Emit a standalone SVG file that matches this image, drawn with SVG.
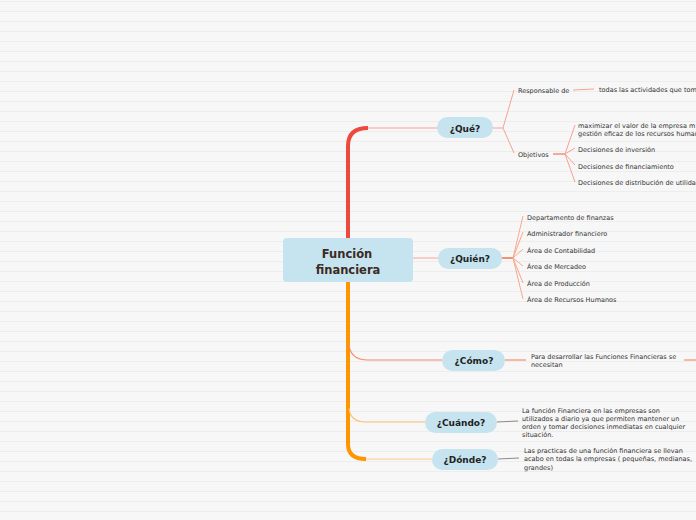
<svg xmlns="http://www.w3.org/2000/svg" width="696" height="520" viewBox="0 0 696 520">
<defs>
<pattern id="lines" x="0" y="0" width="696" height="10" patternUnits="userSpaceOnUse">
<rect width="696" height="10" fill="#f7f7f7"/>
<rect y="1" width="696" height="1" fill="#ededed"/>
</pattern>
</defs>
<style>
.root{fill:#c5e4ef;}
.pill{fill:#c5e4ef;}
.rt{font-family:"DejaVu Sans",Verdana,sans-serif;font-weight:bold;font-size:11.5px;fill:#3b2a22;text-anchor:middle;}
.nt{font-family:"DejaVu Sans",Verdana,sans-serif;font-weight:bold;font-size:9px;fill:#222;text-anchor:middle;}
.st{font-family:"DejaVu Sans",Verdana,sans-serif;font-size:6.5px;fill:#333;}
.thin{fill:none;stroke-width:1;}
.sal{stroke:#f6a292;}
.red{stroke:#ee5a3e;}
.org{stroke:#f57a4a;}
.lor{stroke:#ffcc90;}
.gry{stroke:#8a8a8a;}
</style>
<rect width="696" height="520" fill="url(#lines)"/>
<g id="connectors">
<path d="M348,240 L348,146 Q348,128 368,128" fill="none" stroke="#ec4a3c" stroke-width="4"/>
<path d="M368,128 L438,128" class="thin sal"/>
<path d="M413,258 L438,258" class="thin sal"/>
<path d="M348,280 L348,444 Q348,459 366,459" fill="none" stroke="#ff9500" stroke-width="4"/>
<path d="M366,459 L432,459" class="thin lor"/>
<path d="M349,344 Q350,360 368,360 L442,360" fill="none" stroke="#f58a6a" stroke-width="1.2"/>
<path d="M349,408 Q350,422 366,422 L425,422" fill="none" stroke="#ffc070" stroke-width="1.2"/>
<path d="M493,128 L503,128" class="thin sal"/>
<path d="M503,128 L514,90 M503,128 L514,153" class="thin sal"/>
<path d="M573,90 L594,89" class="thin sal"/>
<path d="M553,154 L565,154" class="thin red"/>
<path d="M565,154 L575,125 M565,154 L575,148 M565,154 L575,165 M565,154 L575,182" class="thin sal"/>
<path d="M502,258 L513,258" fill="none" stroke="#ee5a30" stroke-width="1.3"/>
<path d="M513,258 L523,216 M513,258 L523,232 M513,258 L523,249 M513,258 L523,266 M513,258 L523,283 M513,258 L523,299" class="thin" stroke="#f8a88a"/>
<path d="M505,360 L526,360" class="thin org"/>
<path d="M684,360 L696,360" class="thin org"/>
<path d="M497,422 L518,421" class="thin gry"/>
<path d="M498,459 L519,458" class="thin gry"/>
</g>
<g id="root">
<rect class="root" x="283" y="238" width="130" height="44" rx="4"/>
<text class="rt" x="347" y="258">Función</text>
<text class="rt" x="348" y="274">financiera</text>
</g>
<g id="que">
<rect class="pill" x="437" y="117" width="56" height="21" rx="10.5"/>
<text class="nt" x="465" y="131.5">¿Qué?</text>
</g>
<g id="responsable">
<text class="st" x="518" y="92.5">Responsable de</text>
</g>
<g id="todas">
<text class="st" x="599" y="91.5">todas las actividades que tom</text>
</g>
<g id="objetivos">
<text class="st" x="518" y="156.5">Objetivos</text>
</g>
<g id="maximizar">
<text class="st" x="578" y="128">maximizar el valor de la empresa m</text>
<text class="st" x="578" y="136">gestión eficaz de los recursos human</text>
</g>
<g id="inversion"><text class="st" x="578" y="151.5">Decisiones de inversión</text></g>
<g id="financiamiento"><text class="st" x="578" y="168.5">Decisiones de financiamiento</text></g>
<g id="distribucion"><text class="st" x="578" y="184.5">Decisiones de distribución de utilidad</text></g>
<g id="quien">
<rect class="pill" x="438" y="248" width="64" height="21" rx="10.5"/>
<text class="nt" x="470" y="262">¿Quién?</text>
</g>
<g id="q1"><text class="st" x="527" y="219.5">Departamento de finanzas</text></g>
<g id="q2"><text class="st" x="527" y="235.5">Administrador financiero</text></g>
<g id="q3"><text class="st" x="527" y="252.5">Área de Contabilidad</text></g>
<g id="q4"><text class="st" x="527" y="269">Área de Mercadeo</text></g>
<g id="q5"><text class="st" x="527" y="285.5">Área de Producción</text></g>
<g id="q6"><text class="st" x="527" y="301.5">Área de Recursos Humanos</text></g>
<g id="como">
<rect class="pill" x="442" y="350" width="63" height="21" rx="10.5"/>
<text class="nt" x="474" y="364">¿Cómo?</text>
</g>
<g id="para">
<text class="st" x="531" y="358.5">Para desarrollar las Funciones Financieras se</text>
<text class="st" x="531" y="366.5">necesitan</text>
</g>
<g id="cuando">
<rect class="pill" x="425" y="412" width="72" height="21" rx="10.5"/>
<text class="nt" x="461" y="426">¿Cuándo?</text>
</g>
<g id="cuandotxt">
<text class="st" x="522" y="412.5">La función Financiera en las empresas son</text>
<text class="st" x="522" y="420.8">utilizados  a diario ya que permiten mantener un</text>
<text class="st" x="522" y="429.1">orden y tomar decisiones inmediatas en cualquier</text>
<text class="st" x="522" y="437.4">situación.</text>
</g>
<g id="donde">
<rect class="pill" x="432" y="449" width="66" height="21" rx="10.5"/>
<text class="nt" x="465" y="463">¿Dónde?</text>
</g>
<g id="dondetxt">
<text class="st" x="524" y="453">Las practicas de una función financiera se llevan</text>
<text class="st" x="524" y="461.3">acabo en todas la empresas ( pequeñas, medianas,</text>
<text class="st" x="524" y="469.6">grandes)</text>
</g>
</svg>
